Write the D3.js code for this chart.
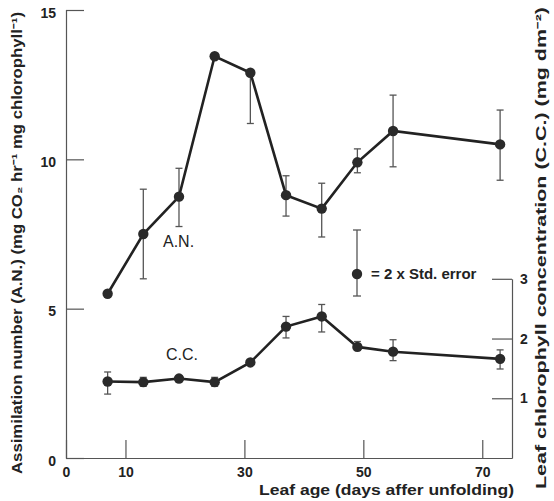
<!doctype html>
<html lang="en">
<head>
<meta charset="UTF-8" />
<title>Assimilation number and leaf chlorophyll vs leaf age</title>
<script src="https://cdn.jsdelivr.net/npm/d3@7/dist/d3.min.js"></script>
<style>
  body { margin: 0; background: #fff; }
  text { font-family: "Liberation Sans", Arial, sans-serif; fill: #222; }
</style>
</head>
<body>
<div id="chart"></div>
<script>
// leaf age (days after unfolding)
var days = [7, 13, 19, 25, 31, 37, 43, 49, 55, 73];

// assimilation number, with error bar ends (null = none drawn)
var anValues = [5.5, 7.5, 8.75, 13.45, 12.9, 8.8, 8.35, 9.9, 10.95, 10.5];
var anLow    = [null, 6.0, 7.75, null, 11.2, 8.1, 7.4, 9.55, 9.75, 9.3];
var anHigh   = [null, 9.0, 9.7, null, null, 9.45, 9.2, 10.35, 12.15, 11.65];

// leaf chlorophyll concentration (right axis)
var ccValues = [1.28, 1.27, 1.33, 1.27, 1.6, 2.2, 2.37, 1.86, 1.78, 1.66];
var ccLow    = [1.07, 1.2, null, 1.2, null, 2.01, 2.11, 1.8, 1.63, 1.49];
var ccHigh   = [1.44, 1.35, null, 1.35, null, 2.37, 2.57, 1.95, 1.98, 1.81];

var xTicks = [0, 10, 30, 50, 70];
var yTicks = [0, 5, 10, 15];
var yRightTicks = [1, 2, 3];

var width = 554, height = 501;

var svg = d3.select("#chart").append("svg")
    .attr("width", width)
    .attr("height", height);

var x = d3.scaleLinear().domain([0, 75]).range([66, 512]);
var y = d3.scaleLinear().domain([0, 15]).range([458, 10]);
// right axis is half the left one
var yR = d3.scaleLinear().domain([0, 7.5]).range([458, 10]);
var yRaxis = d3.scaleLinear().domain([0, 3]).range([yR(0), yR(3)]);

// axes
var gx = svg.append("g")
    .attr("transform", "translate(0," + y(0) + ")")
    .call(d3.axisBottom(x).tickValues(xTicks).tickSize(-18).tickSizeOuter(0).tickPadding(9));

var gy = svg.append("g")
    .attr("transform", "translate(" + x(0) + ",0)")
    .call(d3.axisLeft(y).tickValues(yTicks).tickSize(-18).tickSizeOuter(-18).tickPadding(10));

var gr = svg.append("g")
    .attr("transform", "translate(" + x(75) + ",0)")
    .call(d3.axisRight(yRaxis).tickValues(yRightTicks).tickFormat(d3.format("d"))
      .tickSize(-20).tickSizeOuter(0).tickPadding(8));

[gx, gy, gr].forEach(function(g) {
  g.selectAll("path, line").attr("stroke", "#555").attr("stroke-width", 1.2);
  g.selectAll("text")
    .style("font-family", "'Liberation Sans', Arial, sans-serif")
    .style("font-size", "14px")
    .style("font-weight", "bold")
    .attr("fill", "#222");
});
gy.selectAll(".tick text").attr("dy", "0.5em");

// error bars
function drawErrors(vals, lo, hi, scale) {
  var g = svg.append("g").attr("stroke", "#555").attr("stroke-width", 1.3);
  days.forEach(function(d, i) {
    if (lo[i] == null && hi[i] == null) return;
    var top = hi[i] == null ? vals[i] : hi[i];
    var bot = lo[i] == null ? vals[i] : lo[i];
    g.append("line").attr("x1", x(d)).attr("x2", x(d))
      .attr("y1", scale(top)).attr("y2", scale(bot));
    if (hi[i] != null)
      g.append("line").attr("x1", x(d) - 3.5).attr("x2", x(d) + 3.5)
        .attr("y1", scale(top)).attr("y2", scale(top));
    if (lo[i] != null)
      g.append("line").attr("x1", x(d) - 3.5).attr("x2", x(d) + 3.5)
        .attr("y1", scale(bot)).attr("y2", scale(bot));
  });
}

function drawSeries(vals, scale) {
  var line = d3.line()
    .x(function(d, i) { return x(days[i]); })
    .y(function(d) { return scale(d); });
  svg.append("path")
    .datum(vals)
    .attr("d", line)
    .attr("fill", "none")
    .attr("stroke", "#222")
    .attr("stroke-width", 2.6);
  svg.append("g").selectAll("circle")
    .data(vals)
    .enter().append("circle")
    .attr("cx", function(d, i) { return x(days[i]); })
    .attr("cy", function(d) { return scale(d); })
    .attr("r", 5.2)
    .attr("fill", "#2a2a2a");
}

drawErrors(anValues, anLow, anHigh, y);
drawSeries(anValues, y);
drawErrors(ccValues, ccLow, ccHigh, yR);
drawSeries(ccValues, yR);

// series labels
svg.append("text").attr("x", 163).attr("y", 247)
  .style("font-size", "16px").attr("fill", "#333").text("A.N.");
svg.append("text").attr("x", 166).attr("y", 360)
  .style("font-size", "16px").attr("fill", "#333").text("C.C.");

// legend for error bar
var lg = svg.append("g");
lg.append("line").attr("x1", 357).attr("x2", 357).attr("y1", 230).attr("y2", 296)
  .attr("stroke", "#555").attr("stroke-width", 1.3);
lg.append("line").attr("x1", 353).attr("x2", 361).attr("y1", 230).attr("y2", 230)
  .attr("stroke", "#555").attr("stroke-width", 1.3);
lg.append("line").attr("x1", 353).attr("x2", 361).attr("y1", 296).attr("y2", 296)
  .attr("stroke", "#555").attr("stroke-width", 1.3);
lg.append("circle").attr("cx", 357).attr("cy", 274).attr("r", 5.2).attr("fill", "#2a2a2a");
lg.append("text").attr("x", 371).attr("y", 279)
  .style("font-size", "15px").style("font-weight", "bold").text("= 2 x Std. error");

// axis titles
svg.append("text")
  .attr("x", 514).attr("y", 495)
  .attr("text-anchor", "end")
  .attr("textLength", 255)
  .attr("lengthAdjust", "spacingAndGlyphs")
  .style("font-size", "15px").style("font-weight", "bold")
  .text("Leaf age (days affer unfolding)");

svg.append("text")
  .attr("transform", "translate(22,243) rotate(-90)")
  .attr("text-anchor", "middle")
  .attr("textLength", 462)
  .attr("lengthAdjust", "spacingAndGlyphs")
  .style("font-size", "14px").style("font-weight", "bold")
  .text("Assimilation number (A.N.) (mg CO\u2082 hr\u207B\u00B9 mg chlorophyll\u207B\u00B9)");

svg.append("text")
  .attr("transform", "translate(546,248) rotate(-90)")
  .attr("text-anchor", "middle")
  .attr("textLength", 482)
  .attr("lengthAdjust", "spacingAndGlyphs")
  .style("font-size", "14px").style("font-weight", "bold")
  .text("Leaf chlorophyll concentration (C.C.) (mg dm\u207B\u00B2)");
</script>
</body>
</html>
